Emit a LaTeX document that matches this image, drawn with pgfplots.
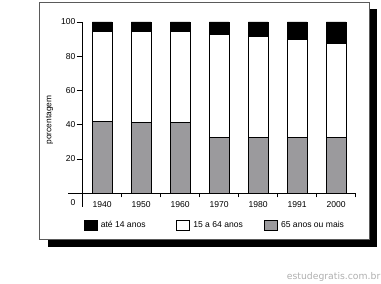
\documentclass[border=0pt]{standalone}
\usepackage{pgfplots}
\pgfplotsset{compat=1.18}
\usepackage{fontspec}
\setmainfont{Liberation Sans}
\newfontfamily\wmfont{DejaVu Sans}
\definecolor{barGray}{RGB}{155,154,157}
\definecolor{frameGray}{RGB}{90,90,90}
\definecolor{wmGray}{RGB}{175,175,175}
\begin{document}
\begin{tikzpicture}[x=1bp,y=1bp]
\useasboundingbox (0,0) rectangle (381,284);
% frame with shadow (pixel y -> 284 - y)
\fill[black] (47.7,284-246.7) rectangle (376.7,284-9);
\filldraw[fill=white,draw=frameGray,line width=0.8bp] (39,284-239) rectangle (369,284-2);
\node[anchor=east,font={\wmfont\fontsize{9.3}{10}\selectfont},text=wmGray,inner sep=0pt] at (380.5,284-276.7) {estudegratis.com.br};
\begin{axis}[
  at={(68bp,77bp)}, anchor=south west,
  scale only axis, width=287.7bp, height=185bp,
  xmin=-0.377, xmax=7, ymin=-8, ymax=100,
  axis lines=middle, axis line style={-,line width=0.8bp,black},
  ybar stacked, bar width=19.5bp,
  xtick={0.5,1.5,...,6.5},
  xticklabels={1940,1950,1960,1970,1980,1991,2000},
  minor xtick={1,2,...,7},
  major x tick style={draw=none},
  minor x tick style={line width=0.8bp,black},
  minor tick length=4bp,
  ytick={20,40,60,80,100},
  major tick length=6bp,
  ytick style={line width=0.8bp,black},
  tick align=outside,
  /pgf/number format/assume math mode=true,
  tick label style={font=\fontsize{8.6}{10}\selectfont},
  yticklabel style={inner sep=1bp},
  xticklabel style={inner sep=2.5bp},
  ylabel={porcentagem},
  ylabel style={at={(axis description cs:-0.0643,0.470)},anchor=center,rotate=90,font=\fontsize{8.4}{10}\selectfont},
  clip=false,
  reverse legend,
  legend columns=3,
  legend style={at={(axis description cs:0.0556,-0.0973)},anchor=west,draw=none,fill=none,inner sep=0pt,outer sep=0pt,
    nodes={inner sep=0pt,font=\fontsize{8.6}{10}\selectfont},
    /tikz/every odd column/.append style={column sep=3.3bp}},
  legend cell align=left,
  sqlegend/.style={legend image code/.code={\draw[##1,line width=0.8bp,draw=black] (0bp,-5bp) rectangle (12.7bp,5bp);}},
]
\addplot[fill=barGray,draw=black,line width=0.8bp,sqlegend] coordinates {(0.5,41.8) (1.5,41.4) (2.5,41.4) (3.5,32.7) (4.5,32.7) (5.5,32.7) (6.5,32.7)};
\addlegendentry{65 anos ou mais}
\addplot[fill=white,draw=black,line width=0.8bp,sqlegend] coordinates {(0.5,52.5) (1.5,52.9) (2.5,52.9) (3.5,59.9) (4.5,58.7) (5.5,57.0) (6.5,54.6)};
\addlegendentry{\makebox[71bp][l]{15 a 64 anos}}
\addplot[fill=black,draw=black,line width=0.8bp,sqlegend] coordinates {(0.5,5.7) (1.5,5.7) (2.5,5.7) (3.5,7.4) (4.5,8.6) (5.5,10.3) (6.5,12.7)};
\addlegendentry{\makebox[75.7bp][l]{até 14 anos}}
\node[font=\fontsize{8.6}{10}\selectfont,inner sep=0pt] at (axis cs:-0.249,-5.5) {0};
\end{axis}
\end{tikzpicture}
\end{document}
